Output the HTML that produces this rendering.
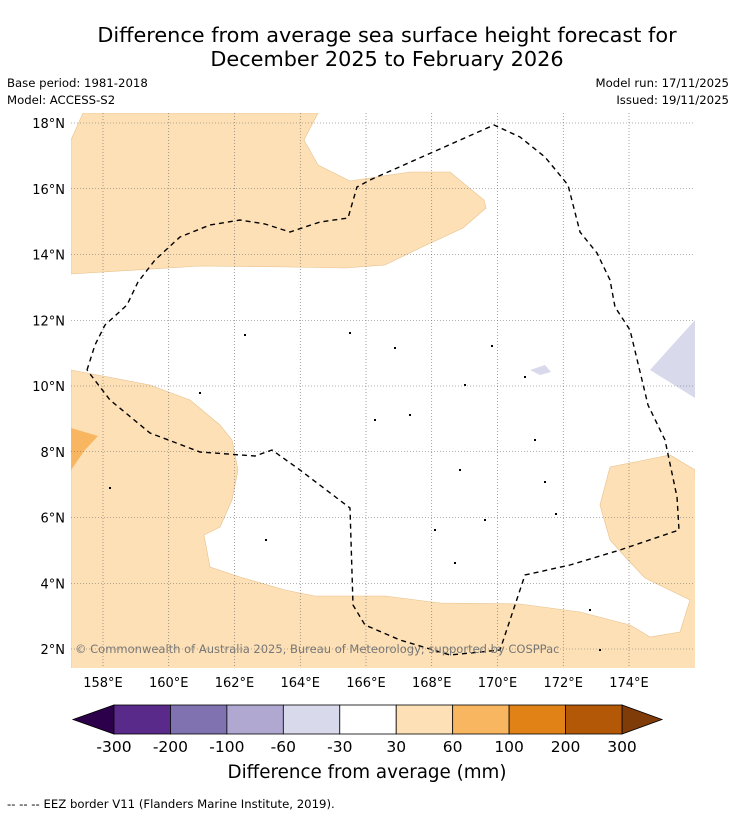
<!DOCTYPE html>
<html><head><meta charset="utf-8"><style>
body{margin:0;background:#fff;font-family:"Liberation Sans","DejaVu Sans",sans-serif}
svg text{font-family:"DejaVu Sans","Liberation Sans",sans-serif}
</style></head><body>
<svg id="c" width="736" height="816" viewBox="0 0 736 816" xmlns="http://www.w3.org/2000/svg">
<text x="387" y="42" font-size="20.8" text-anchor="middle">Difference from average sea surface height forecast for</text>
<text x="387" y="66" font-size="20.8" text-anchor="middle">December 2025 to February 2026</text>
<text x="7" y="87" font-size="11.7">Base period: 1981-2018</text>
<text x="7" y="104" font-size="11.7">Model: ACCESS-S2</text>
<text x="729" y="87" font-size="11.7" text-anchor="end">Model run: 17/11/2025</text>
<text x="729" y="104" font-size="11.7" text-anchor="end">Issued: 19/11/2025</text>
<defs><clipPath id="mc"><rect x="71" y="113" width="624" height="555"/></clipPath></defs>
<g id="map" clip-path="url(#mc)"></g>
<g id="grid"></g>
<g id="eez" clip-path="url(#mc)"></g>
<g id="axes"></g>
<text x="75" y="653" font-size="11.5" fill="#777">© Commonwealth of Australia 2025, Bureau of Meteorology; supported by COSPPac</text>
<g id="cbar"></g>
<text x="367" y="778" font-size="18.3" text-anchor="middle">Difference from average (mm)</text>
<text x="7" y="808" font-size="11.7">-- -- -- EEZ border V11 (Flanders Marine Institute, 2019).</text>
</svg>
<script>
const lonTicks=[158,160,162,164,166,168,170,172,174];
const latTicks=[2,4,6,8,10,12,14,16,18];
const cbLevels=["-300","-200","-100","-60","-30","30","60","100","200","300"];
const cbColors=["#5a2a8a","#8072b0","#b1a8d2","#d9d9ec","#ffffff","#fde0b6","#f9b661","#e18217","#b35806"];
const P=(x,y)=>[158+(x-103)/32.875,18-(y-123)/32.875];
const peachTop=[[71,140],[83,113],[318,113],[304,140],[318,165],[350,181],[410,172],[450,172],[484,200],[486,208],[463,228],[420,248],[385,265],[345,268],[290,267],[200,266],[71,274]].map(p=>P(...p));
const peachBottom=[[71,370],[150,385],[190,400],[220,425],[232,440],[238,470],[232,500],[220,527],[204,535],[210,567],[240,577],[285,590],[315,596],[385,596],[440,603],[520,604],[580,612],[630,625],[650,637],[680,632],[690,600],[645,578],[628,560],[610,540],[600,505],[610,467],[670,455],[695,470],[700,700],[71,700]].map(p=>P(...p));
const orangeLeft=[[71,428],[98,436],[85,450],[71,470]].map(p=>P(...p));
const lavRight=[[650,370],[695,320],[695,398]].map(p=>P(...p));
const lavSmall=[[530,370],[545,365],[551,372],[540,375]].map(p=>P(...p));
const eezLine=[[87,370],[95,345],[105,325],[127,305],[138,282],[155,260],[180,237],[210,225],[240,220],[265,224],[290,232],[320,222],[348,218],[357,187],[370,180],[494,125],[520,137],[545,157],[568,185],[580,232],[597,253],[610,280],[615,307],[630,330],[648,405],[665,440],[677,497],[679,530],[620,550],[570,565],[525,575],[500,650],[450,655],[400,640],[365,625],[353,605],[350,508],[300,470],[272,450],[255,456],[200,452],[150,433],[110,400],[87,370]].map(p=>P(...p));
const islands=[[110,488],[266,540],[455,563],[545,482],[556,514],[435,530],[485,520],[590,610],[600,650],[460,470],[245,335],[350,333],[395,348],[492,346],[465,385],[410,415],[200,393],[375,420],[525,377],[535,440]].map(p=>P(...p));
const X=lon=>103+(lon-158)*32.875, Y=lat=>123+(18-lat)*32.875;
const NS="http://www.w3.org/2000/svg";
function mk(t,a,par){const e=document.createElementNS(NS,t);for(const k in a)e.setAttribute(k,a[k]);par.appendChild(e);return e;}
const pts=a=>a.map(p=>X(p[0]).toFixed(1)+","+Y(p[1]).toFixed(1)).join(" ");
const map=document.getElementById('map');
let e;
e=mk('polygon',{points:pts(peachTop),fill:"#fde0b6",stroke:"#e8c08a","stroke-width":0.6},map);


e=mk('polygon',{points:pts(peachBottom),fill:"#fde0b6",stroke:"#e8c08a","stroke-width":0.6},map);


e=mk('polygon',{points:pts(orangeLeft),fill:"#f9b661"},map);


e=mk('polygon',{points:pts(lavRight),fill:"#d9d9ec"},map);


e=mk('polygon',{points:pts(lavSmall),fill:"#d9d9ec"},map);


islands.forEach(p=>{e=mk('rect',{x:X(p[0])-1,y:Y(p[1])-1,width:2,height:2,fill:"#000"},map);

});
const grid=document.getElementById('grid');
lonTicks.forEach(l=>{e=mk('line',{x1:X(l),x2:X(l),y1:113,y2:668,stroke:"#666","stroke-width":0.6,"stroke-dasharray":"1,2"},grid);

});
latTicks.forEach(l=>{e=mk('line',{x1:71,x2:695,y1:Y(l),y2:Y(l),stroke:"#666","stroke-width":0.6,"stroke-dasharray":"1,2"},grid);

});
e=mk('polyline',{points:pts(eezLine),fill:"none",stroke:"#000","stroke-width":1.4,"stroke-dasharray":"5,4"},document.getElementById('eez'));


const ax=document.getElementById('axes');
lonTicks.forEach(l=>{e=mk('text',{x:X(l),y:687,"font-size":13,"text-anchor":"middle"},ax);e.textContent=l+"°E";

});
latTicks.forEach(l=>{e=mk('text',{x:65,y:Y(l)+5,"font-size":13,"text-anchor":"end"},ax);e.textContent=l+"°N";

});
const cb=document.getElementById('cbar');
const bx0=114,bw=(622-114)/cbColors.length,cy0=705,ch=29;
e=mk('polygon',{points:`73,${cy0+ch/2} ${bx0},${cy0} ${bx0},${cy0+ch}`,fill:"#2d004b",stroke:"#000","stroke-width":0.8},cb);


e=mk('polygon',{points:`662,${cy0+ch/2} 622,${cy0} 622,${cy0+ch}`,fill:"#7f3b08",stroke:"#000","stroke-width":0.8},cb);


cbColors.forEach((c,i)=>{e=mk('rect',{x:bx0+i*bw,y:cy0,width:bw,height:ch,fill:c,stroke:"#000","stroke-width":0.8},cb);

});
cbLevels.forEach((t,i)=>{e=mk('text',{x:bx0+i*bw,y:752,"font-size":15.5,"text-anchor":"middle"},cb);e.textContent=t;

});
</script>
</body></html>
